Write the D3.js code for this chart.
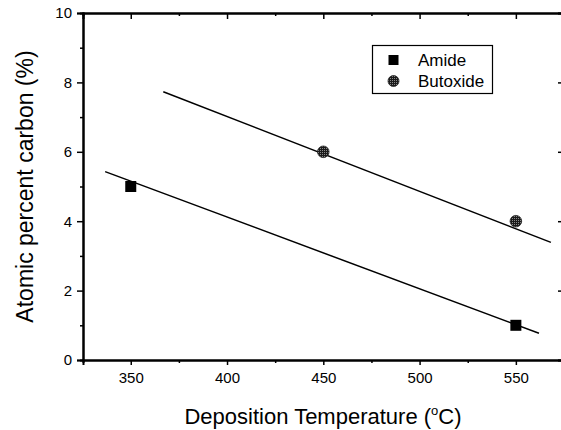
<!DOCTYPE html>
<html><head><meta charset="utf-8">
<script src="https://cdn.jsdelivr.net/npm/d3@7"></script>
<style>body{margin:0;background:#fff}svg{display:block}text{font-family:"Liberation Sans",Arial,sans-serif}</style>
</head><body><svg id="c" width="561" height="430"></svg>
<script>
const xTicks = [350, 400, 450, 500, 550];
const yTicks = [0, 2, 4, 6, 8, 10];
const amideTemp = [350, 550];
const amideCarbon = [5, 1];
const butoxideTemp = [450, 550];
const butoxideCarbon = [6, 4];
const amideFitTemp = [336.7, 562];
const amideFitCarbon = [5.43, 0.77];
const butoxideFitTemp = [366.9, 568.2];
const butoxideFitCarbon = [7.73, 3.39];
const seriesNames = ["Amide", "Butoxide"];

const svg = d3.select("#c");
const L = 83, R = 564, T = 13, B = 360;
const x = d3.scaleLinear().domain([325.2, 575]).range([L, R]);
const y = d3.scaleLinear().domain([0, 10]).range([B, T]);

const g = svg.append("g");
// bottom axis
g.append("g").attr("transform", `translate(0,${B})`)
  .call(d3.axisBottom(x).tickValues(xTicks).tickSize(5).tickPadding(7).tickFormat(d3.format("d")));
g.append("g").attr("transform", `translate(0,${B})`)
  .call(d3.axisBottom(x).tickValues([375,425,475,525,575]).tickSize(3).tickFormat(""));
// top axis
g.append("g").attr("transform", `translate(0,${T})`)
  .call(d3.axisBottom(x).tickValues(xTicks).tickSize(6).tickFormat(""));
g.append("g").attr("transform", `translate(0,${T})`)
  .call(d3.axisBottom(x).tickValues([375,425,475,525]).tickSize(3).tickFormat(""));
// left axis
g.append("g").attr("transform", `translate(${L},0)`)
  .call(d3.axisLeft(y).tickValues(yTicks).tickSize(6).tickPadding(5).tickFormat(d3.format("d")));
g.append("g").attr("transform", `translate(${L},0)`)
  .call(d3.axisLeft(y).tickValues([1,3,5,7,9]).tickSize(3).tickFormat(""));
// right axis
g.append("g").attr("transform", `translate(${R},0)`)
  .call(d3.axisLeft(y).tickValues(yTicks).tickSize(6).tickFormat(""));

g.selectAll(".domain").attr("stroke", "#000").attr("stroke-width", 2);
g.selectAll(".tick line").attr("stroke", "#000").attr("stroke-width", 1.5);
g.selectAll(".tick text").attr("font-size", 15).attr("fill", "#000")
  .attr("font-family", "'Liberation Sans',Arial,sans-serif");

// fit lines
const line = d3.line().x(d => x(d[0])).y(d => y(d[1]));
svg.append("path").datum(d3.zip(amideFitTemp, amideFitCarbon)).attr("d", line)
  .attr("stroke", "#000").attr("stroke-width", 1.5).attr("fill", "none");
svg.append("path").datum(d3.zip(butoxideFitTemp, butoxideFitCarbon)).attr("d", line)
  .attr("stroke", "#000").attr("stroke-width", 1.5).attr("fill", "none");

// dotted pattern for butoxide
const defs = svg.append("defs");
const pat = defs.append("pattern").attr("id", "dots").attr("width", 2).attr("height", 2)
  .attr("patternUnits", "userSpaceOnUse");
pat.append("rect").attr("width", 2).attr("height", 2).attr("fill", "#1a1a1a");
pat.append("rect").attr("width", 1).attr("height", 1).attr("fill", "#888");

// markers
svg.selectAll(".am").data(d3.zip(amideTemp, amideCarbon)).join("rect")
  .attr("x", d => x(d[0]) - 5.5).attr("y", d => y(d[1]) - 5.5)
  .attr("width", 11).attr("height", 11).attr("fill", "#000");
svg.selectAll(".bu").data(d3.zip(butoxideTemp, butoxideCarbon)).join("circle")
  .attr("cx", d => x(d[0])).attr("cy", d => y(d[1])).attr("r", 5.8)
  .attr("fill", "url(#dots)").attr("stroke", "#222").attr("stroke-width", 0.8);

// legend
const lg = svg.append("g");
lg.append("rect").attr("x", 372.5).attr("y", 45.5).attr("width", 120).attr("height", 48)
  .attr("fill", "#fff").attr("stroke", "#000").attr("stroke-width", 1.2);
lg.append("rect").attr("x", 388.5).attr("y", 55).attr("width", 10).attr("height", 10).attr("fill", "#000");
lg.append("circle").attr("cx", 393.5).attr("cy", 81).attr("r", 5.5)
  .attr("fill", "url(#dots)").attr("stroke", "#222").attr("stroke-width", 0.8);
lg.selectAll("text").data(seriesNames).join("text")
  .attr("x", 418).attr("y", (d, i) => 66 + i * 21).attr("font-size", 17).text(d => d);

// axis titles
const xt = svg.append("text").attr("x", 323).attr("y", 424).attr("text-anchor", "middle")
  .attr("font-size", 22);
xt.append("tspan").text("Deposition Temperature (");
xt.append("tspan").attr("dy", -9).attr("font-size", 13).text("o");
xt.append("tspan").attr("dy", 9).text("C)");
svg.append("text").attr("transform", `translate(33,${(T + B) / 2}) rotate(-90)`)
  .attr("text-anchor", "middle").attr("font-size", 23).text("Atomic percent carbon (%)");
</script></body></html>
